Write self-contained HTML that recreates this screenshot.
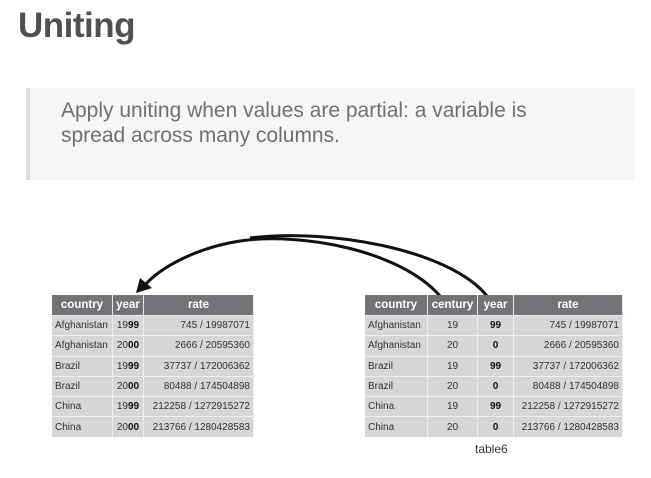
<!DOCTYPE html>
<html><head><meta charset="utf-8"><style>
body{margin:0;width:651px;height:478px;background:#fff;font-family:"Liberation Sans",sans-serif;position:relative;overflow:hidden}
h1{position:absolute;left:18px;top:6px;margin:0;font-size:35px;font-weight:bold;color:#505050;letter-spacing:-0.5px}
.quote{position:absolute;left:26px;top:88px;width:604px;height:92px;background:#f6f6f6;border-left:4px solid #ddd}
.quote p{margin:0;position:absolute;left:31px;top:10px;font-size:21px;line-height:25px;color:#707070}
table{position:absolute;border-collapse:collapse;font-size:10px;color:#333}
th{background:#6f747b;color:#fff;font-size:11.5px;height:20px;padding:0 3px;border-right:1px solid #e8e8e8}
td{background:#d6d6d6;height:19.3px;padding:0 3px;border-top:1px solid #eee;border-right:1px solid #eee}
.c{text-align:center}.r{text-align:right}b{color:#111}
</style></head><body>
<h1>Uniting</h1>
<div class="quote"><p>Apply uniting when values are partial: a variable is<br>spread across many columns.</p></div>
<svg width="651" height="478" style="position:absolute;left:0;top:0">
<path d="M440,296 C400,250 300,232 240,241 C195,248 160,268 145,285" fill="none" stroke="#111" stroke-width="3"/>
<path d="M487,296 C450,250 330,228 250,238" fill="none" stroke="#111" stroke-width="3"/>
<polygon points="136,293 140,278 152,288" fill="#111"/>
</svg>
<table style="left:52px;top:295px;width:202px">
<tr><th style="width:54px">country</th><th style="width:24px">year</th><th>rate</th></tr>
<tr><td>Afghanistan</td><td class="c">19<b>99</b></td><td class="r">745 / 19987071</td></tr>
<tr><td>Afghanistan</td><td class="c">20<b>00</b></td><td class="r">2666 / 20595360</td></tr>
<tr><td>Brazil</td><td class="c">19<b>99</b></td><td class="r">37737 / 172006362</td></tr>
<tr><td>Brazil</td><td class="c">20<b>00</b></td><td class="r">80488 / 174504898</td></tr>
<tr><td>China</td><td class="c">19<b>99</b></td><td class="r">212258 / 1272915272</td></tr>
<tr><td>China</td><td class="c">20<b>00</b></td><td class="r">213766 / 1280428583</td></tr>
</table>
<table style="left:365px;top:295px;width:258px">
<tr><th style="width:56px">country</th><th style="width:43px">century</th><th style="width:29px">year</th><th>rate</th></tr>
<tr><td>Afghanistan</td><td class="c">19</td><td class="c"><b>99</b></td><td class="r">745 / 19987071</td></tr>
<tr><td>Afghanistan</td><td class="c">20</td><td class="c"><b>0</b></td><td class="r">2666 / 20595360</td></tr>
<tr><td>Brazil</td><td class="c">19</td><td class="c"><b>99</b></td><td class="r">37737 / 172006362</td></tr>
<tr><td>Brazil</td><td class="c">20</td><td class="c"><b>0</b></td><td class="r">80488 / 174504898</td></tr>
<tr><td>China</td><td class="c">19</td><td class="c"><b>99</b></td><td class="r">212258 / 1272915272</td></tr>
<tr><td>China</td><td class="c">20</td><td class="c"><b>0</b></td><td class="r">213766 / 1280428583</td></tr>
</table>
<div style="position:absolute;left:475px;top:442px;font-size:12px;color:#333">table6</div>
</body></html>
